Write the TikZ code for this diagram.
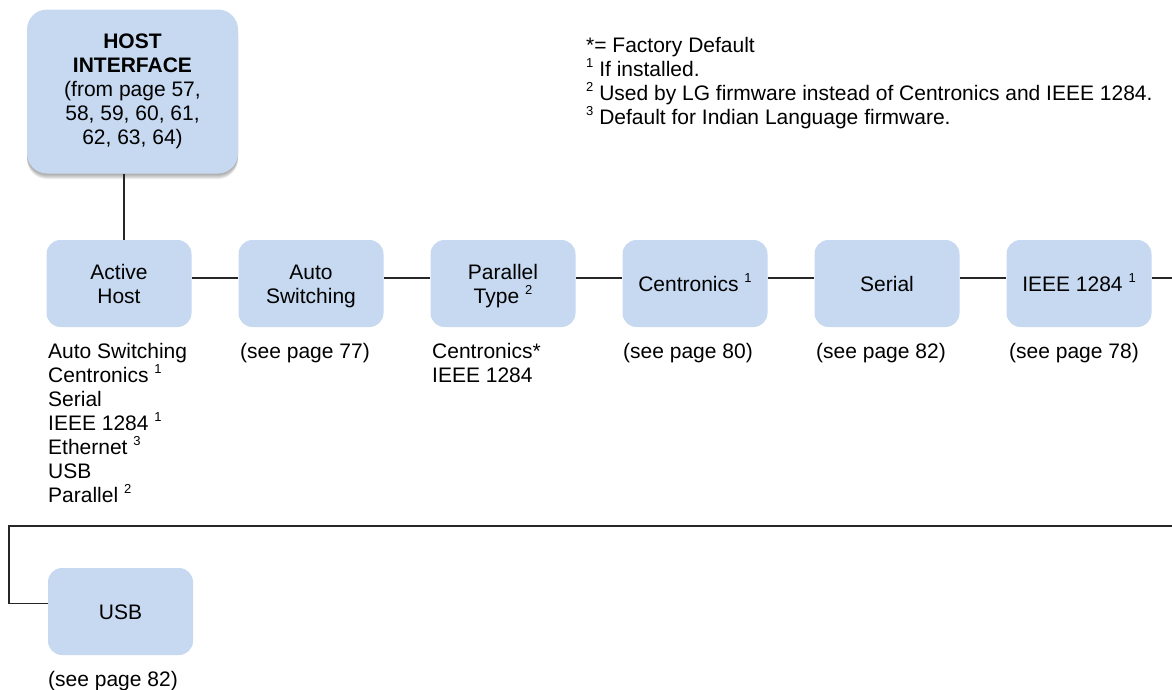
\documentclass[tikz,border=0pt]{standalone}
\usepackage{fontspec}
\setmainfont{Liberation Sans}
\usetikzlibrary{shadows}
\definecolor{boxblue}{HTML}{C6D9F1}
\newcommand\fsup[1]{\raisebox{9pt}{\fontsize{13}{13}\selectfont #1}}
\newcommand\topstrut{\rule{0pt}{23pt}}
\begin{document}
\begin{tikzpicture}[x=1pt,y=-1pt,
  every node/.style={font=\fontsize{21}{24}\selectfont},
  menubox/.style={draw=none, fill=boxblue, rounded corners=14pt, minimum width=145pt, minimum height=87pt, align=center, inner sep=0pt},
  softshadow/.style={general shadow={shadow xshift=0pt, shadow yshift=#1, shadow scale=1, fill=black, opacity=0.07}},
  hostbox/.style={draw=none, fill=boxblue, rounded corners=20pt, minimum width=211pt, minimum height=164pt, align=center, inner sep=0pt,
    softshadow=-1.5pt, softshadow=-2.5pt, softshadow=-3.5pt, softshadow=-4.5pt, softshadow=-5.5pt},
  lbl/.style={align=left, inner sep=0pt, anchor=north west},
  conn/.style={line width=1.1pt, draw=black!85}]
\useasboundingbox (0,0) rectangle (1172,689);

\node[hostbox] (host) at (132.5,91.5) {\textbf{HOST}\\\textbf{INTERFACE}\\(from page 57,\\58, 59, 60, 61,\\62, 63, 64)};

\node[menubox] (ah) at (119,283.5) {\topstrut Active\\Host\strut};
\node[menubox] (as) at (311,283.5) {\topstrut Auto\\Switching\strut};
\node[menubox] (pt) at (503,283.5) {\topstrut Parallel\\Type \fsup{2}\strut};
\node[menubox] (ce) at (695,283.5) {\topstrut Centronics \fsup{1}\strut};
\node[menubox] (se) at (887,283.5) {\topstrut Serial\strut};
\node[menubox] (ie) at (1079,283.5) {\topstrut IEEE 1284 \fsup{1}\strut};
\node[menubox] (usb) at (120.5,611.5) {\topstrut USB\strut};

\node[lbl] (ahl) at (48,343) {Auto Switching\\Centronics \fsup{1}\\Serial\\IEEE 1284 \fsup{1}\\Ethernet \fsup{3}\\USB\\Parallel \fsup{2}};
\node[lbl] (asl) at (240,343) {(see page 77)};
\node[lbl] (ptl) at (432,343) {Centronics*\\IEEE 1284};
\node[lbl] (cel) at (623,343) {(see page 80)};
\node[lbl] (sel) at (816,343) {(see page 82)};
\node[lbl] (iel) at (1009,343) {(see page 78)};
\node[lbl] (usbl) at (48,671) {(see page 82)};

\node[lbl] (notes) at (586,37) {*= Factory Default\\\fsup{1} If installed.\\\fsup{2} Used by LG firmware instead of Centronics and IEEE 1284.\\\fsup{3} Default for Indian Language firmware.};

\coordinate (cx) at (124,0);
\coordinate (rEdge) at (1172,278);
\coordinate (bR) at (1172,526);
\coordinate (bL) at (9,526);

\draw[conn] (host.south -| cx) -- (ah.north -| cx);
\draw[conn] ([yshift=5.5pt]ah.east) -- ([yshift=5.5pt]as.west);
\draw[conn] ([yshift=5.5pt]as.east) -- ([yshift=5.5pt]pt.west);
\draw[conn] ([yshift=5.5pt]pt.east) -- ([yshift=5.5pt]ce.west);
\draw[conn] ([yshift=5.5pt]ce.east) -- ([yshift=5.5pt]se.west);
\draw[conn] ([yshift=5.5pt]se.east) -- ([yshift=5.5pt]ie.west);
\draw[conn] ([yshift=5.5pt]ie.east) -- (rEdge);
\draw[conn] (bR) -- (bL) |- ([yshift=8pt]usb.west);
\end{tikzpicture}
\end{document}
